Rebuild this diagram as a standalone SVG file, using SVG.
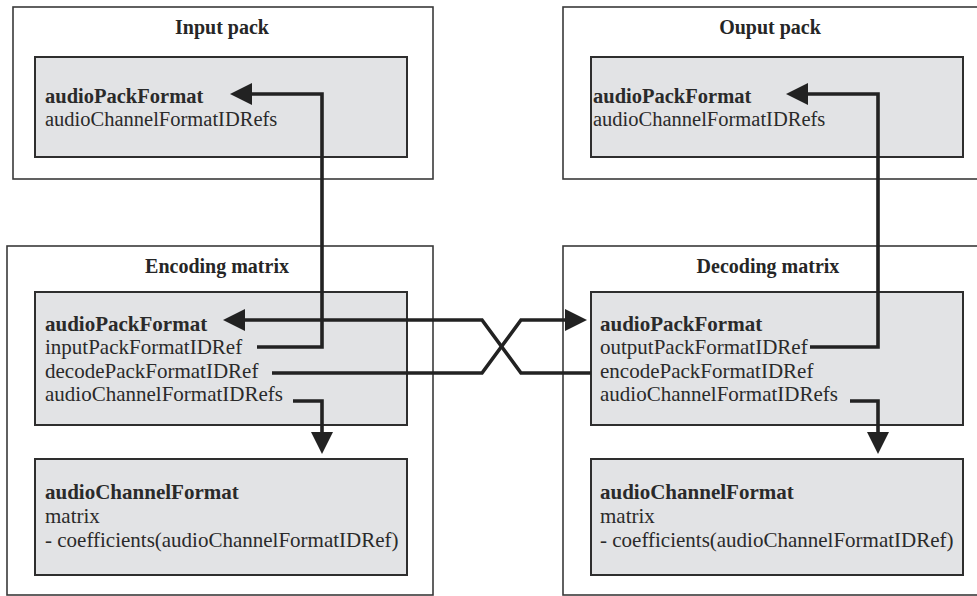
<svg xmlns="http://www.w3.org/2000/svg" width="977" height="596" viewBox="0 0 977 596">
<style>
.outer{fill:#fff;stroke:#3a3a3a;stroke-width:1.6}
.inner{fill:#e2e3e5;stroke:#2e2e2e;stroke-width:2}
.title{font-family:"Liberation Serif",serif;font-weight:bold;font-size:20px;fill:#262626;text-anchor:middle}
.t{font-family:"Liberation Serif",serif;font-size:21px;fill:#2a2a2a}
.s{font-size:20.5px}
.b{font-weight:bold}
.conn{fill:none;stroke:#222;stroke-width:3.6;stroke-linejoin:miter}
</style>
<defs>
<marker id="ah" viewBox="0 0 22 22" markerWidth="22" markerHeight="22" refX="0" refY="11" orient="auto" markerUnits="userSpaceOnUse">
<path d="M0,0 L22,11 L0,22 Z" fill="#222"/>
</marker>
</defs>
<rect width="977" height="596" fill="#fff"/>
<g id="input-pack">
<rect class="outer" x="13" y="7" width="420" height="172"/>
<text class="title" x="222" y="34">Input pack</text>
<rect class="inner" x="35" y="57" width="372" height="100"/>
<text class="t s b" x="45" y="103">audioPackFormat</text>
<text class="t s" x="45" y="126">audioChannelFormatIDRefs</text>
</g>
<g id="output-pack">
<rect class="outer" x="563" y="7" width="424" height="172"/>
<text class="title" x="770" y="34">Ouput pack</text>
<rect class="inner" x="591" y="57" width="372" height="100"/>
<text class="t s b" x="593" y="103">audioPackFormat</text>
<text class="t s" x="593" y="126">audioChannelFormatIDRefs</text>
</g>
<g id="encoding-matrix">
<rect class="outer" x="7" y="246" width="426" height="349"/>
<text class="title" x="217" y="273">Encoding matrix</text>
<g id="enc-pack">
<rect class="inner" x="35" y="292" width="372" height="133"/>
<text class="t b" x="45" y="331">audioPackFormat</text>
<text class="t" x="45" y="354">inputPackFormatIDRef</text>
<text class="t" x="45" y="378">decodePackFormatIDRef</text>
<text class="t" x="45" y="401">audioChannelFormatIDRefs</text>
</g>
<g id="enc-channel">
<rect class="inner" x="35" y="459" width="372" height="116"/>
<text class="t b" x="45" y="499">audioChannelFormat</text>
<text class="t" x="45" y="523">matrix</text>
<text class="t" x="45" y="547">- coefficients(audioChannelFormatIDRef)</text>
</g>
</g>
<g id="decoding-matrix">
<rect class="outer" x="563" y="246" width="424" height="349"/>
<text class="title" x="768" y="273">Decoding matrix</text>
<g id="dec-pack">
<rect class="inner" x="591" y="292" width="372" height="133"/>
<text class="t b" x="600" y="331">audioPackFormat</text>
<text class="t" x="600" y="354">outputPackFormatIDRef</text>
<text class="t" x="600" y="378">encodePackFormatIDRef</text>
<text class="t" x="600" y="401">audioChannelFormatIDRefs</text>
</g>
<g id="dec-channel">
<rect class="inner" x="591" y="459" width="372" height="116"/>
<text class="t b" x="600" y="499">audioChannelFormat</text>
<text class="t" x="600" y="523">matrix</text>
<text class="t" x="600" y="547">- coefficients(audioChannelFormatIDRef)</text>
</g>
</g>
<g id="connectors">
<path class="conn" d="M257,347 H322 V94 H252" marker-end="url(#ah)"/>
<path class="conn" d="M810,347 H878 V94 H808" marker-end="url(#ah)"/>
<path class="conn" d="M293,401 H322 V432" marker-end="url(#ah)"/>
<path class="conn" d="M850,401 H878 V432" marker-end="url(#ah)"/>
<path class="conn" d="M272,373 H482 L521,320 H565" marker-end="url(#ah)"/>
<path class="conn" d="M591,373 H521 L482,320 H245" marker-end="url(#ah)"/>
</g>
</svg>
